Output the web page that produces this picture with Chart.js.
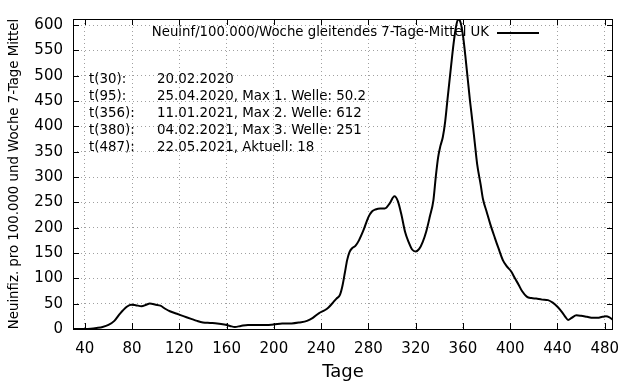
<!DOCTYPE html>
<html>
<head>
<meta charset="utf-8">
<script src="https://cdn.jsdelivr.net/npm/chart.js@4"></script>
<style>
  html, body { margin: 0; padding: 0; background: #fff; }
  #wrap { width: 640px; height: 384px; }
</style>
</head>
<body>
<div id="wrap"><canvas id="chart"></canvas></div>
<script>
// days since start and 7-day incidence per 100.000
const days = [30, 40, 45, 50, 55, 60, 65, 70, 75, 79, 83, 88, 92, 95, 100, 104, 108, 112, 118, 124,
  130, 135, 140, 146, 152, 158, 163, 167, 172, 178, 185, 192, 200, 207, 215, 222, 228, 233, 238, 243,
  246, 250, 253, 256, 258, 260, 262, 264, 266, 269, 272, 276, 280, 283, 286, 290, 294, 298, 302, 305,
  308, 311, 314, 317, 320, 323, 326, 329, 332, 335, 337, 339, 341, 343, 345, 347, 350, 352, 354, 356,
  358, 360, 362, 364, 366, 368, 370, 372, 375, 377, 380, 383, 387, 390, 394, 397, 401, 404, 407, 410,
  414, 418, 422, 427, 432, 436, 440, 444, 447, 449, 452, 456, 460, 465, 470, 474, 478, 481, 484, 487];
const incidence = [0, 0, 0.5, 2, 4, 8, 16, 31, 43, 48, 47, 45, 48, 50.2, 48, 46, 40, 35, 30, 25,
  20, 16, 13, 12, 11, 9, 6, 4, 6, 8, 8, 8, 9, 11, 11, 13, 16, 22, 31, 37,
  42, 52, 60, 68, 85, 110, 136, 152, 159, 164, 175, 196, 221, 232, 236, 238, 238, 248, 262, 252,
  225, 192, 172, 157, 153, 158, 172, 193, 222, 254, 300, 339, 362, 379, 410, 455, 520, 562, 595, 612,
  605, 580, 540, 495, 450, 410, 368, 326, 285, 256, 232, 208, 180, 160, 135, 124, 113, 100, 88, 75,
  64, 61, 60, 58, 57, 52, 44, 33, 23, 18, 22, 27, 26, 24, 22, 22, 24, 25, 23, 18];

const xTicks = [40, 80, 120, 160, 200, 240, 280, 320, 360, 400, 440, 480];
const yTicks = [0, 50, 100, 150, 200, 250, 300, 350, 400, 450, 500, 550, 600];

const legendLabel = "Neuinf/100.000/Woche gleitendes 7-Tage-Mittel UK";
const noteLeft = ["t(30):", "t(95):", "t(356):", "t(380):", "t(487):"];
const noteRight = ["20.02.2020", "25.04.2020, Max 1. Welle: 50.2", "11.01.2021, Max 2. Welle: 612",
  "04.02.2021, Max 3. Welle: 251", "22.05.2021, Aktuell: 18"];

const FONT = "'DejaVu Sans', sans-serif";

// frame, inward tick marks, key and notes in gnuplot style
const gnuplotDeco = {
  id: "gnuplotDeco",
  afterDraw(chart) {
    const { ctx, chartArea: a, scales } = chart;
    ctx.save();
    ctx.strokeStyle = "#000";
    ctx.lineWidth = 1;
    ctx.strokeRect(a.left + 0.5, a.top + 0.5, a.right - a.left - 1, a.bottom - a.top);
    ctx.beginPath();
    xTicks.forEach(v => {
      const px = Math.round(scales.x.getPixelForValue(v)) + 0.5;
      ctx.moveTo(px, a.bottom); ctx.lineTo(px, a.bottom - 6);
      ctx.moveTo(px, a.top); ctx.lineTo(px, a.top + 6);
    });
    yTicks.forEach(v => {
      const py = Math.round(scales.y.getPixelForValue(v)) + 0.5;
      ctx.moveTo(a.left, py); ctx.lineTo(a.left + 6, py);
      ctx.moveTo(a.right, py); ctx.lineTo(a.right - 6, py);
    });
    ctx.stroke();

    ctx.fillStyle = "#000";
    ctx.font = "13.3px " + FONT;
    ctx.textBaseline = "middle";
    ctx.textAlign = "right";
    ctx.fillText(legendLabel, 489, 33);
    ctx.lineWidth = 2;
    ctx.beginPath();
    ctx.moveTo(497, 33); ctx.lineTo(539, 33);
    ctx.stroke();

    ctx.font = "13.4px " + FONT;
    ctx.textAlign = "left";
    noteLeft.forEach((t, i) => {
      ctx.fillText(t, 89, 80 + i * 16.9);
      ctx.fillText(noteRight[i], 157, 80 + i * 16.9);
    });
    ctx.restore();
  }
};

new Chart(document.getElementById("chart"), {
  type: "line",
  data: {
    datasets: [{
      label: legendLabel,
      data: days.map((d, i) => ({ x: d, y: incidence[i] })),
      borderColor: "#000",
      borderWidth: 2,
      pointRadius: 0,
      fill: false,
      cubicInterpolationMode: "monotone"
    }]
  },
  options: {
    responsive: true,
    maintainAspectRatio: false,
    animation: false,
    layout: { padding: { top: 17, right: 27, left: 0, bottom: 0 } },
    plugins: { legend: { display: false }, tooltip: { enabled: false } },
    scales: {
      x: {
        type: "linear",
        min: 30,
        max: 487,
        afterBuildTicks: s => { s.ticks = xTicks.map(v => ({ value: v })); },
        afterFit: s => { s.height = 55; },
        grid: { color: "#a0a0a0", drawTicks: false },
        border: { display: false, dash: [1, 3] },
        ticks: { color: "#000", font: { family: FONT, size: 15 }, padding: 11, maxRotation: 0 },
        title: { display: true, text: "Tage", color: "#000", font: { family: FONT, size: 18 }, padding: { top: 0, bottom: 1 } }
      },
      y: {
        min: 0,
        max: 612,
        afterBuildTicks: s => { s.ticks = yTicks.map(v => ({ value: v })); },
        afterFit: s => { s.width = 73; },
        grid: { color: "#a0a0a0", drawTicks: false },
        border: { display: false, dash: [1, 3] },
        ticks: { color: "#000", font: { family: FONT, size: 15 }, padding: 10 },
        title: { display: true, text: "Neuinfiz. pro 100.000 und Woche 7-Tage Mittel", color: "#000", font: { family: FONT, size: 13.3 }, padding: { top: 7, bottom: 0 } }
      }
    }
  },
  plugins: [gnuplotDeco]
});
</script>
</body>
</html>
